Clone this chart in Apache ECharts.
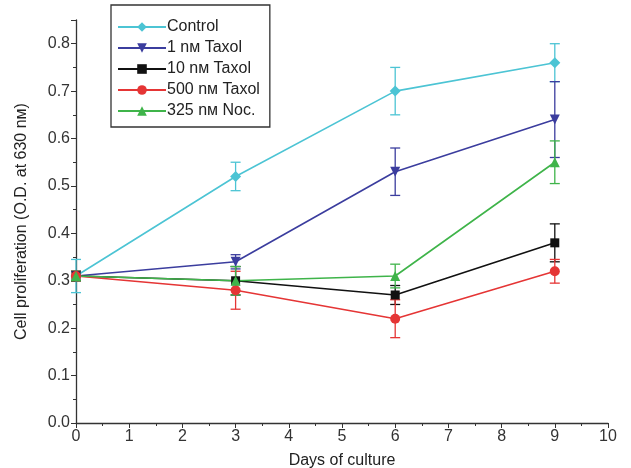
<!DOCTYPE html>
<html>
<head>
<meta charset="utf-8">
<script src="https://cdn.jsdelivr.net/npm/echarts@6/dist/echarts.min.js"></script>
<style>
  html, body { margin: 0; padding: 0; background: #fff; }
  #main { width: 631px; height: 468px; }
</style>
</head>
<body>
<div id="main"></div>
<script>
// days of culture
const days = [0, 3, 6, 9];

// mean values per series
const control = [0.31, 0.52, 0.70, 0.76];
const taxol1 = [0.31, 0.34, 0.53, 0.64];
const taxol10 = [0.31, 0.30, 0.27, 0.38];
const taxol500 = [0.31, 0.28, 0.22, 0.32];
const noc325 = [0.31, 0.30, 0.31, 0.55];

// error bar half-widths
const controlErr = [0.035, 0.03, 0.05, 0.04];
const taxol1Err = [0.01, 0.015, 0.05, 0.08];
const taxol10Err = [0.01, 0.03, 0.02, 0.04];
const taxol500Err = [0.01, 0.04, 0.04, 0.025];
const noc325Err = [0.01, 0.03, 0.025, 0.045];

const seriesDefs = [
  {name: 'Control', values: control, err: controlErr, color: '#4cc4d4', symbol: 'diamond', size: 11, rotate: 0},
  {name: '1 nм Taxol', values: taxol1, err: taxol1Err, color: '#3b3d9e', symbol: 'triangle', size: 10, rotate: 180},
  {name: '10 nм Taxol', values: taxol10, err: taxol10Err, color: '#111111', symbol: 'rect', size: 9, rotate: 0},
  {name: '500 nм Taxol', values: taxol500, err: taxol500Err, color: '#e53535', symbol: 'circle', size: 10, rotate: 0},
  {name: '325 nм Noc.', values: noc325, err: noc325Err, color: '#3fb44a', symbol: 'triangle', size: 10, rotate: 0}
]

function errorBarItem(params, api) {
  const x = api.value(0)
  const lo = api.coord([x, api.value(1)])
  const hi = api.coord([x, api.value(2)])
  const w = 5
  const style = {stroke: api.visual('color'), lineWidth: 1.3}
  return {
    type: 'group',
    children: [
      {type: 'line', shape: {x1: lo[0], y1: lo[1], x2: hi[0], y2: hi[1]}, style: style},
      {type: 'line', shape: {x1: lo[0] - w, y1: lo[1], x2: lo[0] + w, y2: lo[1]}, style: style},
      {type: 'line', shape: {x1: hi[0] - w, y1: hi[1], x2: hi[0] + w, y2: hi[1]}, style: style}
    ]
  }
}

let series = []
seriesDefs.forEach(s => {
  series.push({
    name: s.name + ' err',
    type: 'custom',
    renderItem: errorBarItem,
    itemStyle: {color: s.color},
    data: days.map((d, i) => [d, s.values[i] - s.err[i], s.values[i] + s.err[i]]),
    z: 2,
    silent: true
  })
})
seriesDefs.forEach(s => {
  series.push({
    name: s.name,
    type: 'line',
    symbol: s.symbol,
    symbolSize: s.size,
    symbolRotate: s.rotate,
    itemStyle: {color: s.color},
    lineStyle: {color: s.color, width: 1.6},
    data: days.map((d, i) => [d, s.values[i]]),
    z: 3
  })
})

let myChart = echarts.init(document.getElementById('main'))
myChart.setOption({
  animation: false,
  textStyle: {fontFamily: 'Liberation Sans, Arial, sans-serif'},
  grid: {left: 76, right: 23, top: 20, bottom: 45, outerBoundsMode: 'none'},
  legend: {
    data: seriesDefs.map(s => s.name),
    orient: 'vertical',
    left: 111,
    top: 5,
    padding: [14, 10, 8, 6],
    itemGap: 5,
    itemWidth: 48,
    itemHeight: 12,
    borderColor: '#333',
    borderWidth: 1.3,
    borderRadius: 0,
    textStyle: {fontSize: 16, color: '#222', padding: [0, 0, 0, -4]}
  },
  xAxis: {
    type: 'value',
    min: 0,
    max: 10,
    interval: 1,
    name: 'Days of culture',
    nameLocation: 'middle',
    nameGap: 30,
    nameTextStyle: {fontSize: 16, color: '#222'},
    axisLine: {lineStyle: {color: '#333', width: 1.3}},
    axisTick: {length: 5, lineStyle: {color: '#333'}},
    minorTick: {show: true, splitNumber: 2, length: 3, lineStyle: {color: '#333'}},
    axisLabel: {fontSize: 16, color: '#333', margin: 6},
    splitLine: {show: false}
  },
  yAxis: {
    type: 'value',
    min: 0,
    max: 0.85,
    interval: 0.1,
    name: 'Cell proliferation (O.D. at 630 nм)',
    nameLocation: 'middle',
    nameRotate: 90,
    nameGap: 46,
    nameTextStyle: {fontSize: 16, color: '#222'},
    axisLine: {show: true, lineStyle: {color: '#333', width: 1.3}},
    axisTick: {show: true, length: 5, lineStyle: {color: '#333'}},
    minorTick: {show: true, splitNumber: 2, length: 3, lineStyle: {color: '#333'}},
    axisLabel: {fontSize: 16, color: '#333', margin: 6, formatter: v => v.toFixed(1), showMaxLabel: false},
    splitLine: {show: false}
  },
  series: series
})
</script>
</body>
</html>
